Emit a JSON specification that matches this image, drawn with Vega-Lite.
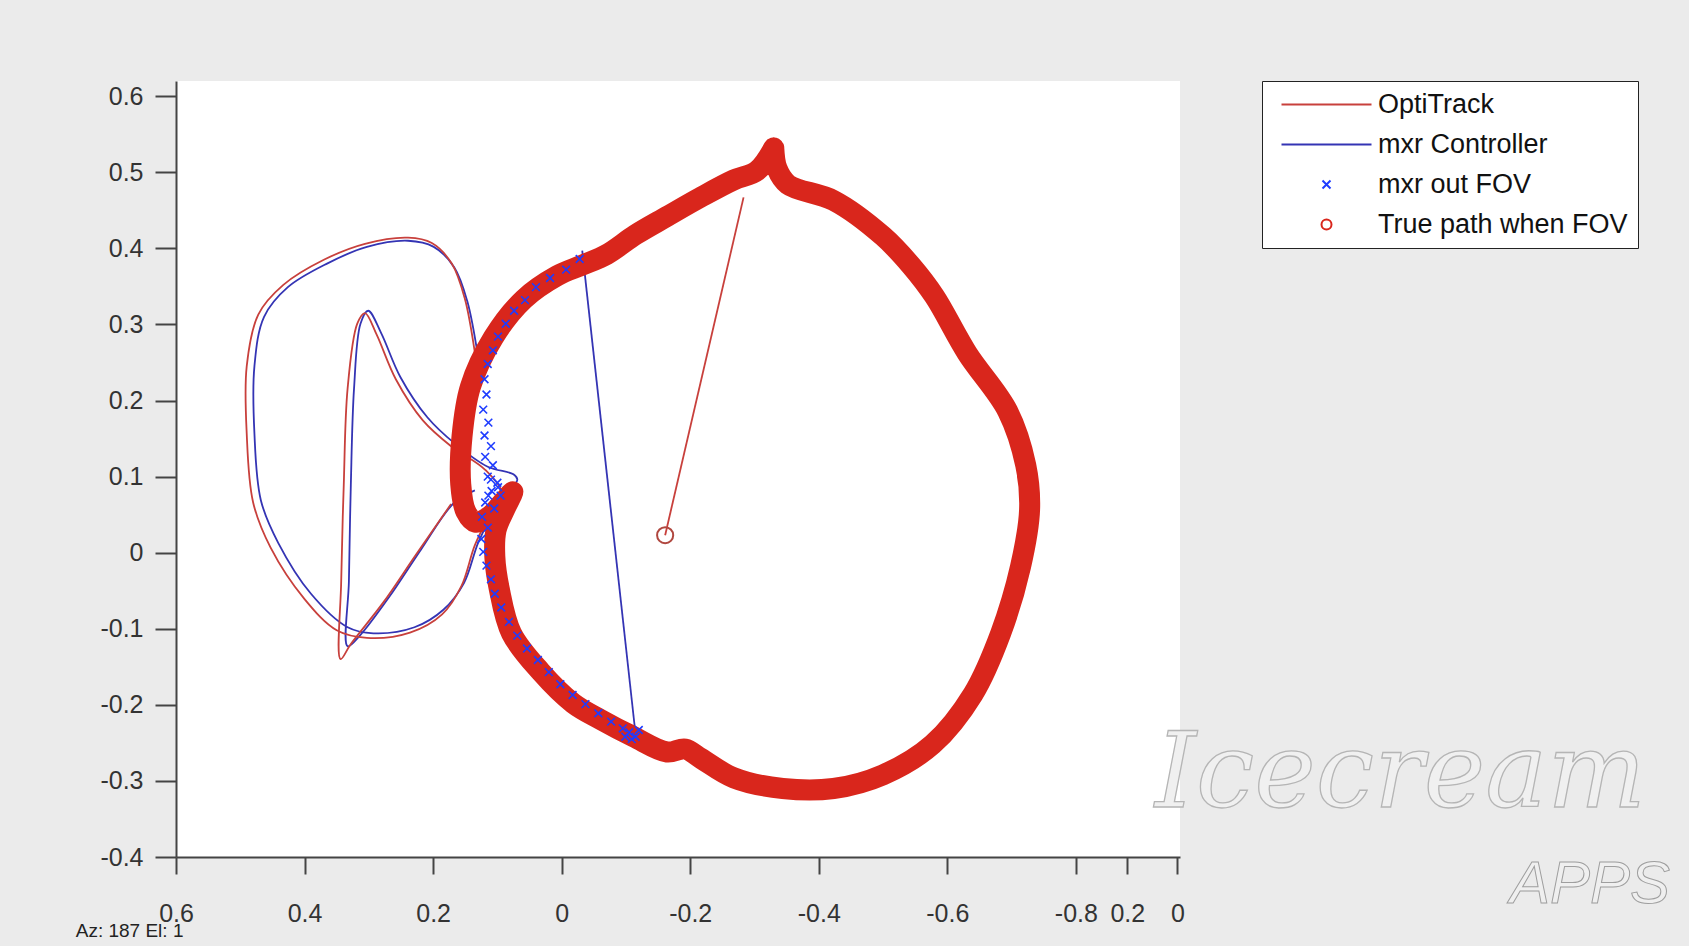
{
  "$schema": "https://vega.github.io/schema/vega-lite/v6.json",
  "autosize": {"type": "none"},
  "width": 1004,
  "height": 776,
  "padding": {"left": 176, "top": 81, "right": 509, "bottom": 89},
  "background": "#ebebeb",
  "view": {"fill": "white", "stroke": null},
  "datasets": {
    "thin": [
      {"s":"mxr Controller","g":"c1","i":1,"x":0.130,"y":0.257},
      {"s":"mxr Controller","g":"c1","i":2,"x":0.147,"y":0.331},
      {"s":"mxr Controller","g":"c1","i":3,"x":0.167,"y":0.375},
      {"s":"mxr Controller","g":"c1","i":4,"x":0.199,"y":0.402},
      {"s":"mxr Controller","g":"c1","i":5,"x":0.239,"y":0.410},
      {"s":"mxr Controller","g":"c1","i":6,"x":0.303,"y":0.402},
      {"s":"mxr Controller","g":"c1","i":7,"x":0.365,"y":0.380},
      {"s":"mxr Controller","g":"c1","i":8,"x":0.426,"y":0.349},
      {"s":"mxr Controller","g":"c1","i":9,"x":0.463,"y":0.310},
      {"s":"mxr Controller","g":"c1","i":10,"x":0.478,"y":0.245},
      {"s":"mxr Controller","g":"c1","i":11,"x":0.478,"y":0.157},
      {"s":"mxr Controller","g":"c1","i":12,"x":0.468,"y":0.069},
      {"s":"mxr Controller","g":"c1","i":13,"x":0.441,"y":0.013},
      {"s":"mxr Controller","g":"c1","i":14,"x":0.390,"y":-0.054},
      {"s":"mxr Controller","g":"c1","i":15,"x":0.333,"y":-0.098},
      {"s":"mxr Controller","g":"c1","i":16,"x":0.293,"y":-0.106},
      {"s":"mxr Controller","g":"c1","i":17,"x":0.229,"y":-0.098},
      {"s":"mxr Controller","g":"c1","i":18,"x":0.184,"y":-0.075},
      {"s":"mxr Controller","g":"c1","i":19,"x":0.152,"y":-0.040},
      {"s":"mxr Controller","g":"c1","i":20,"x":0.130,"y":0.013},
      {"s":"mxr Controller","g":"c1","i":21,"x":0.110,"y":0.047},
      {"s":"mxr Controller","g":"c1","i":22,"x":0.085,"y":0.078},
      {"s":"mxr Controller","g":"c1","i":23,"x":0.069,"y":0.096},
      {"s":"mxr Controller","g":"c1","i":24,"x":0.075,"y":0.103},
      {"s":"mxr Controller","g":"c1","i":25,"x":0.115,"y":0.113},
      {"s":"mxr Controller","g":"c1","i":26,"x":0.167,"y":0.144},
      {"s":"mxr Controller","g":"c1","i":27,"x":0.209,"y":0.178},
      {"s":"mxr Controller","g":"c1","i":28,"x":0.251,"y":0.231},
      {"s":"mxr Controller","g":"c1","i":29,"x":0.281,"y":0.289},
      {"s":"mxr Controller","g":"c1","i":30,"x":0.301,"y":0.318},
      {"s":"mxr Controller","g":"c1","i":31,"x":0.313,"y":0.301},
      {"s":"mxr Controller","g":"c1","i":32,"x":0.323,"y":0.216},
      {"s":"mxr Controller","g":"c1","i":33,"x":0.328,"y":0.089},
      {"s":"mxr Controller","g":"c1","i":34,"x":0.331,"y":-0.038},
      {"s":"mxr Controller","g":"c1","i":35,"x":0.333,"y":-0.123},
      {"s":"mxr Controller","g":"c1","i":36,"x":0.314,"y":-0.109},
      {"s":"mxr Controller","g":"c1","i":37,"x":0.269,"y":-0.059},
      {"s":"mxr Controller","g":"c1","i":38,"x":0.219,"y":0.004},
      {"s":"mxr Controller","g":"c1","i":39,"x":0.167,"y":0.066},
      {"s":"mxr Controller","g":"c1","i":40,"x":0.135,"y":0.082},
      {"s":"mxr Controller","g":"c2","i":1,"x":-0.032,"y":0.397},
      {"s":"mxr Controller","g":"c2","i":2,"x":-0.115,"y":-0.239},
      {"s":"OptiTrack","g":"o1","i":1,"x":0.134,"y":0.257},
      {"s":"OptiTrack","g":"o1","i":2,"x":0.151,"y":0.335},
      {"s":"OptiTrack","g":"o1","i":3,"x":0.171,"y":0.380},
      {"s":"OptiTrack","g":"o1","i":4,"x":0.202,"y":0.407},
      {"s":"OptiTrack","g":"o1","i":5,"x":0.239,"y":0.414},
      {"s":"OptiTrack","g":"o1","i":6,"x":0.306,"y":0.406},
      {"s":"OptiTrack","g":"o1","i":7,"x":0.370,"y":0.385},
      {"s":"OptiTrack","g":"o1","i":8,"x":0.433,"y":0.352},
      {"s":"OptiTrack","g":"o1","i":9,"x":0.472,"y":0.313},
      {"s":"OptiTrack","g":"o1","i":10,"x":0.490,"y":0.245},
      {"s":"OptiTrack","g":"o1","i":11,"x":0.490,"y":0.157},
      {"s":"OptiTrack","g":"o1","i":12,"x":0.480,"y":0.066},
      {"s":"OptiTrack","g":"o1","i":13,"x":0.453,"y":0.007},
      {"s":"OptiTrack","g":"o1","i":14,"x":0.400,"y":-0.061},
      {"s":"OptiTrack","g":"o1","i":15,"x":0.350,"y":-0.102},
      {"s":"OptiTrack","g":"o1","i":16,"x":0.303,"y":-0.112},
      {"s":"OptiTrack","g":"o1","i":17,"x":0.236,"y":-0.105},
      {"s":"OptiTrack","g":"o1","i":18,"x":0.186,"y":-0.081},
      {"s":"OptiTrack","g":"o1","i":19,"x":0.156,"y":-0.044},
      {"s":"OptiTrack","g":"o1","i":20,"x":0.135,"y":0.010},
      {"s":"OptiTrack","g":"o1","i":21,"x":0.115,"y":0.044},
      {"s":"OptiTrack","g":"o1","i":22,"x":0.092,"y":0.075},
      {"s":"OptiTrack","g":"o1","i":23,"x":0.119,"y":0.109},
      {"s":"OptiTrack","g":"o1","i":24,"x":0.172,"y":0.140},
      {"s":"OptiTrack","g":"o1","i":25,"x":0.216,"y":0.174},
      {"s":"OptiTrack","g":"o1","i":26,"x":0.258,"y":0.228},
      {"s":"OptiTrack","g":"o1","i":27,"x":0.288,"y":0.287},
      {"s":"OptiTrack","g":"o1","i":28,"x":0.306,"y":0.315},
      {"s":"OptiTrack","g":"o1","i":29,"x":0.318,"y":0.301},
      {"s":"OptiTrack","g":"o1","i":30,"x":0.333,"y":0.216},
      {"s":"OptiTrack","g":"o1","i":31,"x":0.339,"y":0.089},
      {"s":"OptiTrack","g":"o1","i":32,"x":0.343,"y":-0.038},
      {"s":"OptiTrack","g":"o1","i":33,"x":0.344,"y":-0.140},
      {"s":"OptiTrack","g":"o1","i":34,"x":0.328,"y":-0.120},
      {"s":"OptiTrack","g":"o1","i":35,"x":0.278,"y":-0.066},
      {"s":"OptiTrack","g":"o1","i":36,"x":0.227,"y":-0.003},
      {"s":"OptiTrack","g":"o1","i":37,"x":0.172,"y":0.064},
      {"s":"OptiTrack","g":"o2","i":1,"x":-0.283,"y":0.467},
      {"s":"OptiTrack","g":"o2","i":2,"x":-0.161,"y":0.023}
    ],
    "band": [
      {"s":"True path when FOV","i":1,"x":-0.330,"y":0.532},
      {"s":"True path when FOV","i":2,"x":-0.304,"y":0.502},
      {"s":"True path when FOV","i":3,"x":-0.268,"y":0.490},
      {"s":"True path when FOV","i":4,"x":-0.216,"y":0.467},
      {"s":"True path when FOV","i":5,"x":-0.164,"y":0.442},
      {"s":"True path when FOV","i":6,"x":-0.115,"y":0.418},
      {"s":"True path when FOV","i":7,"x":-0.070,"y":0.392},
      {"s":"True path when FOV","i":8,"x":-0.032,"y":0.378},
      {"s":"True path when FOV","i":9,"x":0.007,"y":0.364},
      {"s":"True path when FOV","i":10,"x":0.059,"y":0.333},
      {"s":"True path when FOV","i":11,"x":0.106,"y":0.283},
      {"s":"True path when FOV","i":12,"x":0.142,"y":0.218},
      {"s":"True path when FOV","i":13,"x":0.155,"y":0.153},
      {"s":"True path when FOV","i":14,"x":0.157,"y":0.090},
      {"s":"True path when FOV","i":15,"x":0.149,"y":0.054},
      {"s":"True path when FOV","i":16,"x":0.134,"y":0.040},
      {"s":"True path when FOV","i":17,"x":0.112,"y":0.048},
      {"s":"True path when FOV","i":18,"x":0.092,"y":0.066},
      {"s":"True path when FOV","i":19,"x":0.076,"y":0.080},
      {"s":"True path when FOV","i":20,"x":0.088,"y":0.058},
      {"s":"True path when FOV","i":21,"x":0.102,"y":0.030},
      {"s":"True path when FOV","i":22,"x":0.104,"y":-0.005},
      {"s":"True path when FOV","i":23,"x":0.097,"y":-0.048},
      {"s":"True path when FOV","i":24,"x":0.078,"y":-0.106},
      {"s":"True path when FOV","i":25,"x":0.033,"y":-0.156},
      {"s":"True path when FOV","i":26,"x":-0.018,"y":-0.198},
      {"s":"True path when FOV","i":27,"x":-0.060,"y":-0.219},
      {"s":"True path when FOV","i":28,"x":-0.112,"y":-0.242},
      {"s":"True path when FOV","i":29,"x":-0.164,"y":-0.262},
      {"s":"True path when FOV","i":30,"x":-0.192,"y":-0.258},
      {"s":"True path when FOV","i":31,"x":-0.216,"y":-0.270},
      {"s":"True path when FOV","i":32,"x":-0.268,"y":-0.296},
      {"s":"True path when FOV","i":33,"x":-0.344,"y":-0.310},
      {"s":"True path when FOV","i":34,"x":-0.423,"y":-0.310},
      {"s":"True path when FOV","i":35,"x":-0.500,"y":-0.292},
      {"s":"True path when FOV","i":36,"x":-0.577,"y":-0.252},
      {"s":"True path when FOV","i":37,"x":-0.640,"y":-0.186},
      {"s":"True path when FOV","i":38,"x":-0.683,"y":-0.106},
      {"s":"True path when FOV","i":39,"x":-0.714,"y":-0.018},
      {"s":"True path when FOV","i":40,"x":-0.728,"y":0.057},
      {"s":"True path when FOV","i":41,"x":-0.722,"y":0.115},
      {"s":"True path when FOV","i":42,"x":-0.694,"y":0.186},
      {"s":"True path when FOV","i":43,"x":-0.631,"y":0.262},
      {"s":"True path when FOV","i":44,"x":-0.580,"y":0.337},
      {"s":"True path when FOV","i":45,"x":-0.544,"y":0.377},
      {"s":"True path when FOV","i":46,"x":-0.500,"y":0.416},
      {"s":"True path when FOV","i":47,"x":-0.423,"y":0.463},
      {"s":"True path when FOV","i":48,"x":-0.352,"y":0.484},
      {"s":"True path when FOV","i":49,"x":-0.335,"y":0.505},
      {"s":"True path when FOV","i":50,"x":-0.330,"y":0.532}
    ],
    "xs": [
      {"s":"mxr out FOV","x":-0.028,"y":0.386},{"s":"mxr out FOV","x":-0.007,"y":0.372},
      {"s":"mxr out FOV","x":0.018,"y":0.361},{"s":"mxr out FOV","x":0.040,"y":0.349},
      {"s":"mxr out FOV","x":0.057,"y":0.332},{"s":"mxr out FOV","x":0.074,"y":0.318},
      {"s":"mxr out FOV","x":0.087,"y":0.301},{"s":"mxr out FOV","x":0.099,"y":0.284},
      {"s":"mxr out FOV","x":0.107,"y":0.266},{"s":"mxr out FOV","x":0.115,"y":0.248},
      {"s":"mxr out FOV","x":0.120,"y":0.228},{"s":"mxr out FOV","x":0.117,"y":0.208},
      {"s":"mxr out FOV","x":0.122,"y":0.188},{"s":"mxr out FOV","x":0.114,"y":0.171},
      {"s":"mxr out FOV","x":0.120,"y":0.154},{"s":"mxr out FOV","x":0.110,"y":0.140},
      {"s":"mxr out FOV","x":0.119,"y":0.126},{"s":"mxr out FOV","x":0.107,"y":0.115},
      {"s":"mxr out FOV","x":0.115,"y":0.100},{"s":"mxr out FOV","x":0.100,"y":0.092},
      {"s":"mxr out FOV","x":0.109,"y":0.081},{"s":"mxr out FOV","x":0.095,"y":0.075},
      {"s":"mxr out FOV","x":0.119,"y":0.066},{"s":"mxr out FOV","x":0.105,"y":0.058},
      {"s":"mxr out FOV","x":0.110,"y":0.096},{"s":"mxr out FOV","x":0.099,"y":0.086},
      {"s":"mxr out FOV","x":0.114,"y":0.075},
      {"s":"mxr out FOV","x":0.124,"y":0.047},{"s":"mxr out FOV","x":0.115,"y":0.033},
      {"s":"mxr out FOV","x":0.125,"y":0.018},{"s":"mxr out FOV","x":0.122,"y":0.001},
      {"s":"mxr out FOV","x":0.117,"y":-0.017},{"s":"mxr out FOV","x":0.110,"y":-0.035},
      {"s":"mxr out FOV","x":0.104,"y":-0.054},{"s":"mxr out FOV","x":0.094,"y":-0.072},
      {"s":"mxr out FOV","x":0.082,"y":-0.091},{"s":"mxr out FOV","x":0.069,"y":-0.109},
      {"s":"mxr out FOV","x":0.054,"y":-0.126},{"s":"mxr out FOV","x":0.037,"y":-0.141},
      {"s":"mxr out FOV","x":0.020,"y":-0.157},{"s":"mxr out FOV","x":0.002,"y":-0.173},
      {"s":"mxr out FOV","x":-0.017,"y":-0.187},{"s":"mxr out FOV","x":-0.037,"y":-0.199},
      {"s":"mxr out FOV","x":-0.057,"y":-0.211},{"s":"mxr out FOV","x":-0.077,"y":-0.222},
      {"s":"mxr out FOV","x":-0.095,"y":-0.231},{"s":"mxr out FOV","x":-0.105,"y":-0.236},
      {"s":"mxr out FOV","x":-0.115,"y":-0.242},{"s":"mxr out FOV","x":-0.109,"y":-0.245},
      {"s":"mxr out FOV","x":-0.120,"y":-0.233},{"s":"mxr out FOV","x":-0.099,"y":-0.242}
    ],
    "circ": [
      {"s":"True path when FOV","x":-0.161,"y":0.023}
    ]
  },
  "layer": [
    {
      "data": {"name": "thin"},
      "mark": {"type": "line", "strokeWidth": 1.8, "strokeJoin": "round", "interpolate": "catmull-rom"},
      "encoding": {
        "x": {
          "field": "x", "type": "quantitative",
          "scale": {"domain": [-0.962, 0.6], "reverse": true, "nice": false, "zero": false},
          "axis": {
            "title": null, "grid": false,
            "values": [0.6, 0.4, 0.2, 0, -0.2, -0.4, -0.6, -0.8, -0.88, -0.958],
            "labelExpr": "datum.value < -0.85 ? (datum.value < -0.93 ? '0' : '0.2') : replace(format(datum.value, '.1~f'), '\u2212', '-')",
            "labelOverlap": false, "labelFlush": false,
            "labelFont": "Liberation Sans", "labelFontSize": 25, "labelColor": "#333333",
            "labelPadding": 27,
            "domainColor": "#444444", "domainWidth": 2,
            "tickColor": "#444444", "tickWidth": 2, "tickSize": 17
          }
        },
        "y": {
          "field": "y", "type": "quantitative",
          "scale": {"domain": [-0.4, 0.62], "nice": false, "zero": false},
          "axis": {
            "title": null, "grid": false,
            "values": [-0.4, -0.3, -0.2, -0.1, 0, 0.1, 0.2, 0.3, 0.4, 0.5, 0.6],
            "labelExpr": "replace(format(datum.value, '.1~f'), '\u2212', '-')",
            "labelOverlap": false, "labelFlush": false,
            "labelFont": "Liberation Sans", "labelFontSize": 25, "labelColor": "#333333",
            "labelPadding": 12,
            "domainColor": "#444444", "domainWidth": 2,
            "tickColor": "#444444", "tickWidth": 2, "tickSize": 21
          }
        },
        "color": {
          "field": "s", "type": "nominal",
          "scale": {
            "domain": ["OptiTrack", "mxr Controller", "mxr out FOV", "True path when FOV"],
            "range": ["#c8403c", "#3434b4", "#1e3cff", "#d9261c"]
          },
          "legend": {
            "title": null,
            "orient": "right",
            "offset": 82,
            "padding": 10,
            "strokeColor": "#222222",
            "fillColor": "white",
            "cornerRadius": 0,
            "labelFont": "Liberation Sans",
            "labelFontSize": 27,
            "labelColor": "#111111",
            "labelLimit": 500,
            "symbolSize": 100,
            "symbolOffset": 41,
            "labelOffset": 38,
            "rowPadding": 12,
            "symbolStrokeWidth": 2,
            "encode": {
              "symbols": {
                "update": {
                  "shape": {"signal": "datum.value === 'OptiTrack' || datum.value === 'mxr Controller' ? 'M-9,0H9' : (datum.value === 'mxr out FOV' ? 'M-0.8,-0.8L0.8,0.8M0.8,-0.8L-0.8,0.8' : 'circle')"},
                  "fill": {"value": "transparent"},
                  "stroke": {"scale": "color", "field": "value"},
                  "strokeWidth": {"value": 2},
                  "size": {"value": 100},
                  "opacity": {"value": 1}
                }
              }
            }
          }
        },
        "detail": {"field": "g"},
        "order": {"field": "i", "type": "quantitative"}
      }
    },
    {
      "data": {"name": "band"},
      "mark": {"type": "line", "strokeWidth": 21, "strokeJoin": "round", "strokeCap": "round", "interpolate": "catmull-rom"},
      "encoding": {
        "x": {"field": "x", "type": "quantitative"},
        "y": {"field": "y", "type": "quantitative"},
        "color": {"field": "s", "type": "nominal"},
        "order": {"field": "i", "type": "quantitative"}
      }
    },
    {
      "data": {"name": "xs"},
      "mark": {"type": "point", "shape": "M-1,-1L1,1M1,-1L-1,1", "filled": false, "size": 60, "strokeWidth": 1.6, "opacity": 1},
      "encoding": {
        "x": {"field": "x", "type": "quantitative"},
        "y": {"field": "y", "type": "quantitative"},
        "color": {"field": "s", "type": "nominal"}
      }
    },
    {
      "data": {"name": "circ"},
      "mark": {"type": "point", "shape": "circle", "filled": false, "size": 260, "strokeWidth": 2, "opacity": 1, "color": "#b0473f"},
      "encoding": {
        "x": {"field": "x", "type": "quantitative"},
        "y": {"field": "y", "type": "quantitative"}
      }
    },
    {
      "data": {"values": [{"t": "Icecream", "x": -1.305, "y": -0.293}]},
      "mark": {"type": "text", "font": "DejaVu Serif", "fontStyle": "italic", "fontSize": 104, "fill": "#f0f0f0", "stroke": "#b5b5b5", "strokeWidth": 1.3, "align": "center", "baseline": "middle"},
      "encoding": {
        "x": {"field": "x", "type": "quantitative"},
        "y": {"field": "y", "type": "quantitative"},
        "text": {"field": "t"}
      }
    },
    {
      "data": {"values": [{"t": "APPS", "x": -1.6, "y": -0.437}]},
      "mark": {"type": "text", "font": "Liberation Sans", "fontStyle": "italic", "fontSize": 60, "fill": "#efefef", "stroke": "#9e9e9e", "strokeWidth": 1, "align": "center", "baseline": "middle"},
      "encoding": {
        "x": {"field": "x", "type": "quantitative"},
        "y": {"field": "y", "type": "quantitative"},
        "text": {"field": "t"}
      }
    },
    {
      "data": {"values": [{"t": "Az: 187 El:   1", "x": 0.756, "y": -0.497}]},
      "mark": {"type": "text", "font": "Liberation Sans", "fontSize": 19, "color": "#222222", "align": "left", "baseline": "middle"},
      "encoding": {
        "x": {"field": "x", "type": "quantitative"},
        "y": {"field": "y", "type": "quantitative"},
        "text": {"field": "t"}
      }
    }
  ]
}
